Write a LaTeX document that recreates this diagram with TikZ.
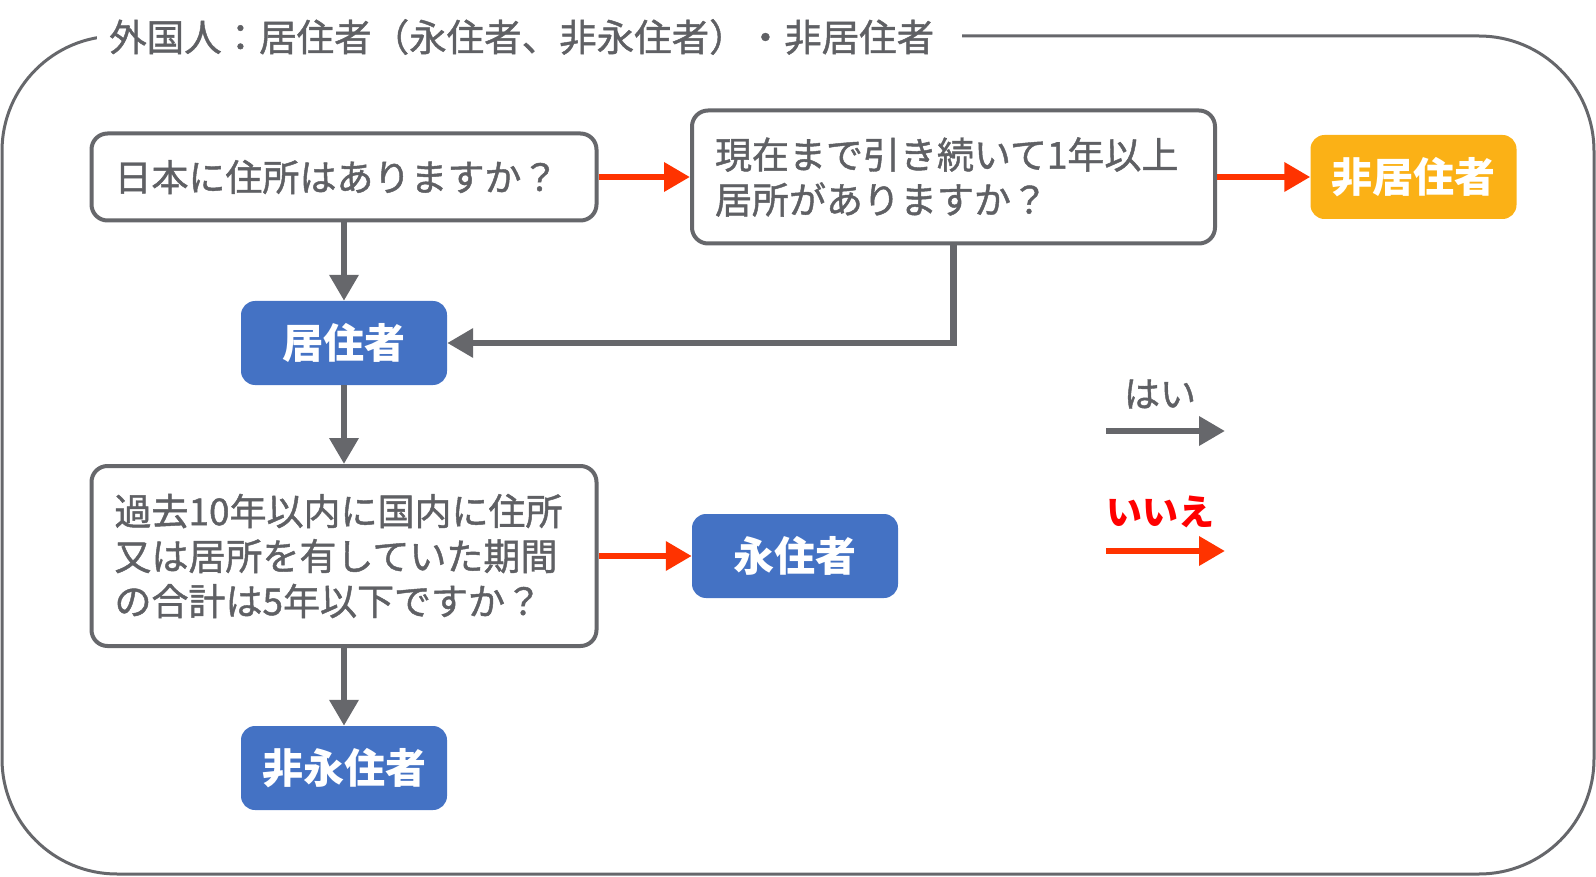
\documentclass[tikz,border=0pt]{standalone}
\usepackage{fontspec}
\usepackage{tikz}
\usetikzlibrary{arrows.meta}
\newfontfamily\jpfont[FakeBold=1.2]{Noto Sans CJK JP}
\newfontfamily\jpbold{Noto Sans CJK JP}
\definecolor{framegray}{HTML}{66676B}
\definecolor{textgray}{HTML}{5F6064}
\definecolor{noorange}{HTML}{FF3300}
\definecolor{nored}{HTML}{FF0000}
\definecolor{ansblue}{HTML}{4472C4}
\definecolor{ansorange}{HTML}{FBB116}

\begin{document}
\begin{tikzpicture}[x=1pt,y=-1pt,
	askbox/.style={draw=framegray, line width=4pt, fill=white, rounded corners=16pt,
		align=left, inner xsep=23pt, text=textgray,
		font=\jpfont\fontsize{37}{45}\selectfont},
	ansbox/.style={fill=ansblue, rounded corners=14pt, text=white,
		minimum width=206pt, minimum height=84pt,
		font=\jpbold\bfseries\fontsize{41}{48}\selectfont},
	yesarrow/.style={draw=framegray, line width=6.5pt, -{Triangle[length=26pt,width=28pt]}},
	noarrow/.style={yesarrow, draw=noorange, -{Triangle[length=26pt,width=28pt]}}]
	\useasboundingbox (0,0) rectangle (1596,877);
	\draw[framegray, line width=3pt, rounded corners=115pt] (2,36) rectangle (1594,874);
	\node[fill=white, anchor=west, inner xsep=12pt, text=textgray,
		font=\jpfont\fontsize{37.5}{45}\selectfont] (title) at (97,37) {外国人：居住者（永住者、非永住者）・非居住者\kern16pt};

	\node[askbox, text width=459pt, minimum height=87pt] (q1) at (344,177) {日本に住所はありますか？};
	\node[askbox, text width=477pt, minimum height=133pt] (q2) at (953.5,177) {現在まで引き続いて1年以上\\居所がありますか？};
	\node[ansbox, fill=ansorange] (nonres) at (1413.5,177) {非居住者};
	\node[ansbox] (res) at (344,343) {居住者};
	\node[askbox, text width=459pt, minimum height=180pt] (q3) at (344,556) {過去10年以内に国内に住所\\又は居所を有していた期間\\の合計は5年以下ですか？};
	\node[ansbox] (perm) at (795,556) {永住者};
	\node[ansbox] (nonperm) at (344,768) {非永住者};

	\draw[noarrow] (q1.east) -- (q1.east -| q2.west);
	\draw[noarrow] (q2.east) -- (q2.east -| nonres.west);
	\draw[yesarrow] (q1) -- (res);
	\draw[yesarrow] (q2.south) |- (res.east);
	\draw[yesarrow] (res) -- (q3);
	\draw[noarrow] (q3.east) -- (q3.east -| perm.west);
	\draw[yesarrow] (q3) -- (nonperm);

	\node[text=textgray, font=\jpfont\fontsize{36}{42}\selectfont] (yeslabel) at (1160,394) {はい};
	\coordinate (yesfrom) at (1106,431);
	\coordinate (yesto) at (1225,431);
	\draw[yesarrow] (yesfrom) -- (yesto);
	\node[text=nored, font=\jpbold\bfseries\fontsize{36}{42}\selectfont] (nolabel) at (1160,512) {いいえ};
	\coordinate (nofrom) at (1106,551);
	\coordinate (noto) at (1225,551);
	\draw[noarrow] (nofrom) -- (noto);
\end{tikzpicture}
\end{document}
